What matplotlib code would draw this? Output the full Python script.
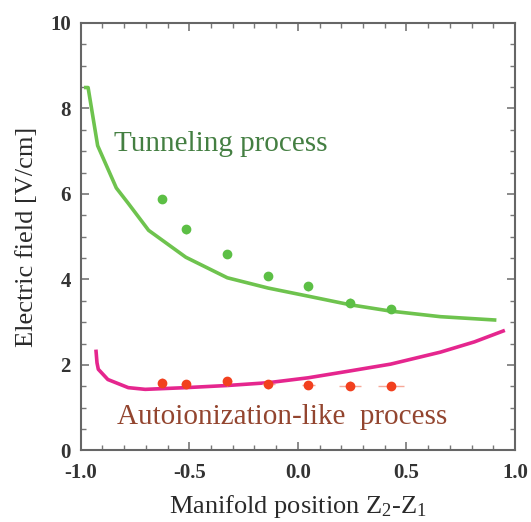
import matplotlib
matplotlib.use("Agg")
import matplotlib.pyplot as plt
from matplotlib.ticker import MultipleLocator

plt.rcParams['font.family'] = ['Liberation Serif', 'DejaVu Serif']
plt.rcParams['mathtext.fontset'] = 'custom'
plt.rcParams['mathtext.rm'] = 'Liberation Serif'
plt.rcParams['mathtext.it'] = 'Liberation Serif:italic'

# measured points
pos_pts = [-0.625, -0.516, -0.325, -0.1375, 0.047, 0.239, 0.427]
tunnel_pts = [5.88, 5.17, 4.60, 4.08, 3.84, 3.46, 3.31]
auto_pts = [1.585, 1.545, 1.62, 1.545, 1.53, 1.52, 1.505]
auto_xerr = [0.0, 0.02, 0.02, 0.03, 0.03, 0.05, 0.06]

# calculated curves
tunnel_x = [-0.985, -0.966, -0.922, -0.836, -0.781, -0.6875, -0.516, -0.325,
            -0.1375, 0.047, 0.239, 0.427, 0.656, 0.914]
tunnel_y = [8.49, 8.49, 7.13, 6.14, 5.78, 5.15, 4.52, 4.04,
            3.80, 3.61, 3.41, 3.26, 3.13, 3.05]
auto_x = [-0.93, -0.925, -0.919, -0.875, -0.781, -0.703, -0.516, -0.325,
          -0.1375, 0.047, 0.239, 0.427, 0.656, 0.8125, 0.953]
auto_y = [2.36, 2.05, 1.90, 1.66, 1.47, 1.43, 1.47, 1.52,
          1.585, 1.70, 1.86, 2.02, 2.30, 2.54, 2.81]

fig = plt.figure(figsize=(5.31, 5.22), dpi=100)
ax = fig.add_axes([0.152, 0.137, 0.818, 0.819])

ax.plot(tunnel_x, tunnel_y, color='#6ec34e', lw=2.6, solid_capstyle='butt')
ax.plot(auto_x, auto_y, color='#e5268e', lw=2.6, solid_capstyle='butt')

ax.errorbar(pos_pts, tunnel_pts, yerr=0.1, fmt='o', color='#5cbf45', ms=6,
            ecolor='#a8dc98', elinewidth=1, capsize=0)
ax.errorbar(pos_pts, auto_pts, xerr=auto_xerr, yerr=0.1, fmt='o', color='#f2401e',
            ms=6, ecolor='#f7a898', elinewidth=1, capsize=0)

ax.text(-0.845, 7.17, 'Tunneling process', color='#447f42', fontsize=21,
        ha='left', va='center')
ax.text(-0.835, 0.78, 'Autoionization-like  process', color='#93452f', fontsize=21,
        ha='left', va='center')

ax.set_xlim(-1.0, 1.0)
ax.set_ylim(0, 10)
ax.xaxis.set_major_locator(MultipleLocator(0.5))
ax.xaxis.set_minor_locator(MultipleLocator(0.1))
ax.yaxis.set_major_locator(MultipleLocator(2))
ax.yaxis.set_minor_locator(MultipleLocator(0.5))
ax.set_xticks([-1.0, -0.5, 0.0, 0.5, 1.0])
ax.set_xticklabels(['-1.0', '-0.5', '0.0', '0.5', '1.0'])

for s in ax.spines.values():
    s.set_color('#666666')
    s.set_linewidth(1.5)
ax.tick_params(which='both', direction='in', top=True, right=True, color='#777777')
ax.tick_params(which='major', length=6, width=1.2, labelsize=15)
ax.tick_params(axis='x', which='major', pad=9)
ax.tick_params(axis='y', which='major', pad=7)
ax.tick_params(which='minor', length=3.5, width=1)
for lab in ax.get_xticklabels() + ax.get_yticklabels():
    lab.set_fontweight('bold')
    lab.set_color('#333333')

ax.set_xlabel('Manifold position Z$_2$-Z$_1$', fontsize=19, color='#2a2a2a', labelpad=7)
ax.set_ylabel('Electric field [V/cm]', fontsize=19, color='#2a2a2a', labelpad=9)

fig.savefig('out.png', dpi=100)
